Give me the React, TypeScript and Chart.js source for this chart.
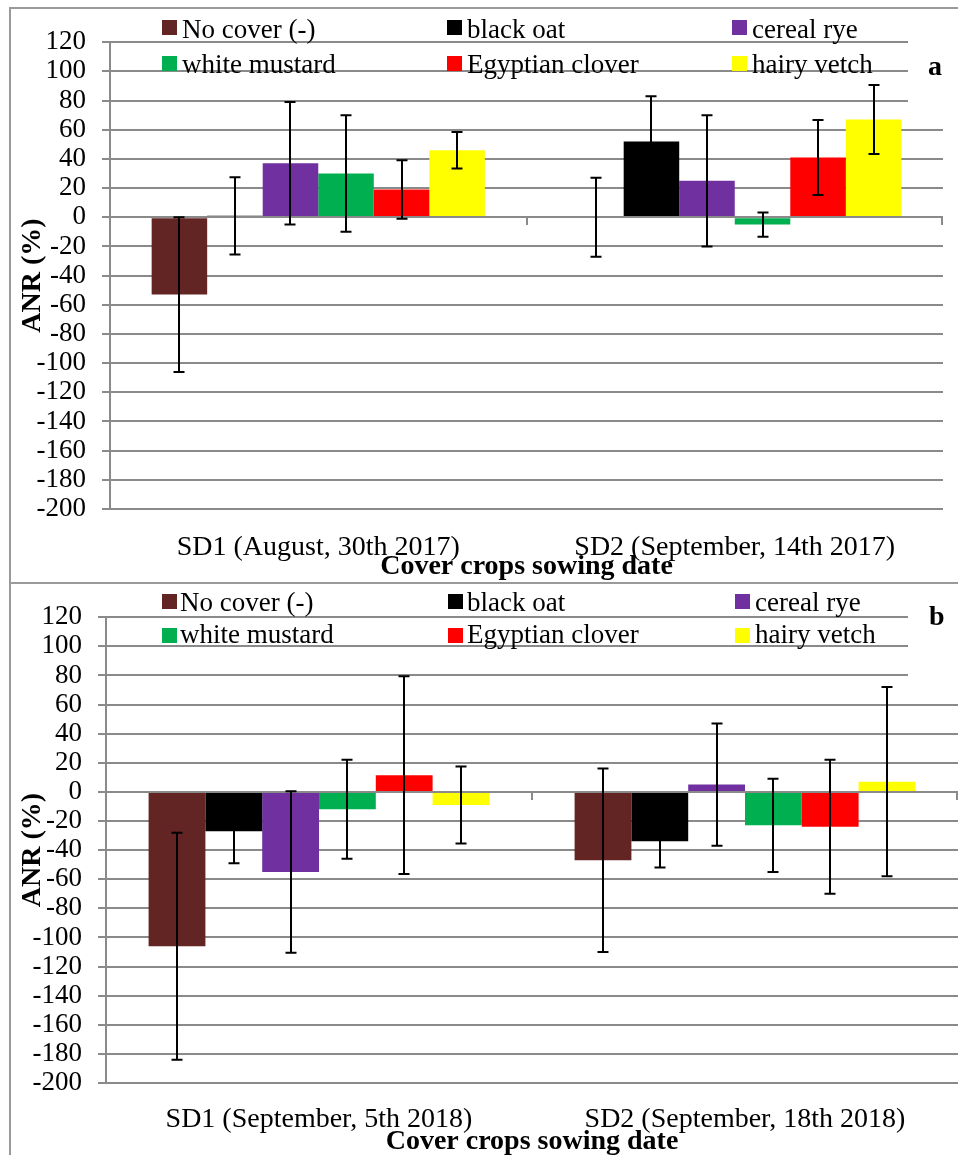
import React, { useEffect, useRef } from "react";
import { Chart, registerables } from "chart.js";

Chart.register(...registerables);

// ---------- data ----------
const seriesNames = ["No cover (-)", "black oat", "cereal rye", "white mustard", "Egyptian clover", "hairy vetch"];
const seriesColors = ["#632523", "#000000", "#7030A0", "#00B050", "#FF0000", "#FFFF00"];

const categoriesA = ["SD1 (August, 30th 2017)", "SD2 (September, 14th 2017)"];
const noCoverA = [-53, 0];
const blackOatA = [1, 52];
const cerealRyeA = [37, 25];
const whiteMustardA = [30, -5];
const egyptianCloverA = [19, 41];
const hairyVetchA = [46, 67];
const noCoverErrA = [53, 27];
const blackOatErrA = [26.5, 31];
const cerealRyeErrA = [42, 45];
const whiteMustardErrA = [40, 8.3];
const egyptianCloverErrA = [20, 25.7];
const hairyVetchErrA = [12.5, 23.7];

const categoriesB = ["SD1 (September, 5th 2018)", "SD2 (September, 18th 2018)"];
const noCoverB = [-106, -47];
const blackOatB = [-27, -34];
const cerealRyeB = [-55, 5];
const whiteMustardB = [-12, -23];
const egyptianCloverB = [11.5, -24];
const hairyVetchB = [-9, 7];
const noCoverErrB = [78, 63];
const blackOatErrB = [22, 18];
const cerealRyeErrB = [55.5, 42];
const whiteMustardErrB = [34, 32];
const egyptianCloverErrB = [68, 46];
const hairyVetchErrB = [26.5, 65];

const yMin = -200;
const yMax = 120;
const yStep = 20;
const yTitle = "ANR (%)";
const xTitle = "Cover crops sowing date";

// ---------- styling ----------
const FONT = "'Liberation Serif', 'Times New Roman', serif";
const GRID = "#8a8a8a";

type PanelSpec = {
  letter: string;
  categories: string[];
  values: number[][];
  errors: number[][];
  padTop: number;
  padRight: number;
  yWidth: number;
  xHeight: number;
  xLabelPad: number;
  legendBoxX: number[];
  legendTextX: number[];
  legendBoxTop: number[];
  legendBaseline: number[];
  letterX: number;
  letterBaseline: number;
  maskY: [number, number];
};

const panelPlugin = {
  id: "panelDecor",
  beforeDatasetsDraw(chart: any, _args: any, opts: any) {
    const ctx = chart.ctx;
    ctx.save();
    ctx.fillStyle = "#ffffff";
    ctx.fillRect(opts.maskX, opts.maskY[0], chart.width - opts.maskX, opts.maskY[1] - opts.maskY[0]);
    ctx.restore();
  },
  afterDatasetsDraw(chart: any) {
    const ctx = chart.ctx;
    const ca = chart.chartArea;
    const y = chart.scales.y;
    const x = chart.scales.x;
    const y0 = Math.round(y.getPixelForValue(0));
    ctx.save();
    // zero axis line
    ctx.strokeStyle = GRID;
    ctx.lineWidth = 2;
    ctx.beginPath();
    ctx.moveTo(ca.left, y0);
    ctx.lineTo(ca.right, y0);
    ctx.stroke();
    // category tick marks
    const n = chart.data.labels.length;
    const ticksX: number[] = [];
    for (let i = 0; i < n - 1; i++) {
      ticksX.push((x.getPixelForTick(i) + x.getPixelForTick(i + 1)) / 2);
    }
    ticksX.push(ca.right - 1);
    ctx.beginPath();
    ticksX.forEach((tx) => {
      const px = Math.round(tx);
      ctx.moveTo(px, y0);
      ctx.lineTo(px, y0 + 8);
    });
    ctx.stroke();
    // error bars
    ctx.strokeStyle = "#000000";
    ctx.lineWidth = 2;
    chart.data.datasets.forEach((ds: any, di: number) => {
      const meta = chart.getDatasetMeta(di);
      meta.data.forEach((bar: any, i: number) => {
        const v = ds.data[i];
        const e = ds.errors[i];
        const bx = Math.round(bar.x);
        const yt = y.getPixelForValue(v + e);
        const yb = y.getPixelForValue(v - e);
        ctx.beginPath();
        ctx.moveTo(bx, yt);
        ctx.lineTo(bx, yb);
        ctx.moveTo(bx - 5.5, yt);
        ctx.lineTo(bx + 5.5, yt);
        ctx.moveTo(bx - 5.5, yb);
        ctx.lineTo(bx + 5.5, yb);
        ctx.stroke();
      });
    });
    ctx.restore();
  },
  afterDraw(chart: any, _args: any, opts: any) {
    const ctx = chart.ctx;
    ctx.save();
    ctx.font = `27px ${FONT}`;
    ctx.textBaseline = "alphabetic";
    ctx.textAlign = "left";
    seriesNames.forEach((name, i) => {
      const col = i % 3;
      const row = Math.floor(i / 3);
      ctx.fillStyle = seriesColors[i];
      ctx.fillRect(opts.legendBoxX[col], opts.legendBoxTop[row], 15, 15);
      ctx.fillStyle = "#000000";
      ctx.fillText(name, opts.legendTextX[col], opts.legendBaseline[row]);
    });
    ctx.font = `bold 28px ${FONT}`;
    ctx.fillText(opts.letter, opts.letterX, opts.letterBaseline);
    ctx.restore();
  },
};

function buildChart(canvas: HTMLCanvasElement, p: PanelSpec) {
  const datasets = p.values.map((vals, i) => ({
    label: seriesNames[i],
    data: vals,
    errors: p.errors[i],
    backgroundColor: seriesColors[i],
    borderWidth: 0,
    barPercentage: 1.0,
    categoryPercentage: 0.8,
  }));
  return new Chart(canvas, {
    type: "bar",
    data: { labels: p.categories, datasets: datasets as any },
    options: {
      animation: false,
      responsive: false,
      devicePixelRatio: 1,
      layout: { padding: { left: 0, top: p.padTop, right: p.padRight, bottom: 0 } },
      plugins: {
        legend: { display: false },
        tooltip: { enabled: false },
        panelDecor: {
          letter: p.letter,
          legendBoxX: p.legendBoxX,
          legendTextX: p.legendTextX,
          legendBoxTop: p.legendBoxTop,
          legendBaseline: p.legendBaseline,
          letterX: p.letterX,
          letterBaseline: p.letterBaseline,
          maskX: 897,
          maskY: p.maskY,
        },
      } as any,
      scales: {
        x: {
          grid: { display: false },
          border: { display: false },
          ticks: {
            font: { family: FONT, size: 28 },
            color: "#000000",
            padding: p.xLabelPad,
            maxRotation: 0,
            autoSkip: false,
          },
          title: {
            display: true,
            text: xTitle,
            color: "#000000",
            font: { family: FONT, size: 28, weight: "bold", lineHeight: 1 },
            padding: { top: 0, bottom: 1 },
          },
          afterFit: (s: any) => {
            s.height = p.xHeight;
          },
        },
        y: {
          min: yMin,
          max: yMax,
          ticks: {
            stepSize: yStep,
            autoSkip: false,
            font: { family: FONT, size: 27 },
            color: "#000000",
            padding: 16,
          },
          grid: { color: GRID, lineWidth: 2, tickLength: 8 },
          border: { color: GRID, width: 2 },
          title: {
            display: true,
            text: yTitle,
            color: "#000000",
            font: { family: FONT, size: 28, weight: "bold" },
            padding: { top: 5, bottom: 0 },
          },
          afterFit: (s: any) => {
            s.width = p.yWidth;
          },
        },
      },
    } as any,
    plugins: [panelPlugin],
  });
}

const panelA: PanelSpec = {
  letter: "a",
  categories: categoriesA,
  values: [noCoverA, blackOatA, cerealRyeA, whiteMustardA, egyptianCloverA, hairyVetchA],
  errors: [noCoverErrA, blackOatErrA, cerealRyeErrA, whiteMustardErrA, egyptianCloverErrA, hairyVetchErrA],
  padTop: 30,
  padRight: 15,
  yWidth: 99,
  xHeight: 73,
  xLabelPad: 14,
  legendBoxX: [151, 436, 721],
  legendTextX: [171, 456, 741],
  legendBoxTop: [10, 46],
  legendBaseline: [27.7, 62.7],
  letterX: 917,
  letterBaseline: 65,
  maskY: [20, 105],
};

const panelB: PanelSpec = {
  letter: "b",
  categories: categoriesB,
  values: [noCoverB, blackOatB, cerealRyeB, whiteMustardB, egyptianCloverB, hairyVetchB],
  errors: [noCoverErrB, blackOatErrB, cerealRyeErrB, whiteMustardErrB, egyptianCloverErrB, hairyVetchErrB],
  padTop: 29,
  padRight: 0,
  yWidth: 95,
  xHeight: 74,
  xLabelPad: 12,
  legendBoxX: [151, 437, 724],
  legendTextX: [169, 456, 744],
  legendBoxTop: [9, 43],
  legendBaseline: [26, 57.7],
  letterX: 918,
  letterBaseline: 40,
  maskY: [15, 105],
};

function Panel({ spec, left, top }: { spec: PanelSpec; left: number; top: number }) {
  const ref = useRef<HTMLCanvasElement | null>(null);
  useEffect(() => {
    if (!ref.current) return;
    const chart = buildChart(ref.current, spec);
    return () => chart.destroy();
  }, [spec]);
  return (
    <canvas
      ref={ref}
      width={947}
      height={572}
      style={{ position: "absolute", left, top, width: 947, height: 572 }}
    />
  );
}

export default function App() {
  return (
    <div
      style={{
        position: "absolute",
        left: 0,
        top: 0,
        width: 958,
        height: 1155,
        overflow: "hidden",
        background: "#ffffff",
      }}
    >
      <Panel spec={panelA} left={11} top={10} />
      <Panel spec={panelB} left={11} top={585} />
      <div style={{ position: "absolute", left: 9, top: 7, width: 949, height: 2, background: "#9a9a9a" }} />
      <div style={{ position: "absolute", left: 9, top: 582, width: 949, height: 2, background: "#9a9a9a" }} />
      <div style={{ position: "absolute", left: 9, top: 7, width: 2, height: 1148, background: "#9a9a9a" }} />
    </div>
  );
}
